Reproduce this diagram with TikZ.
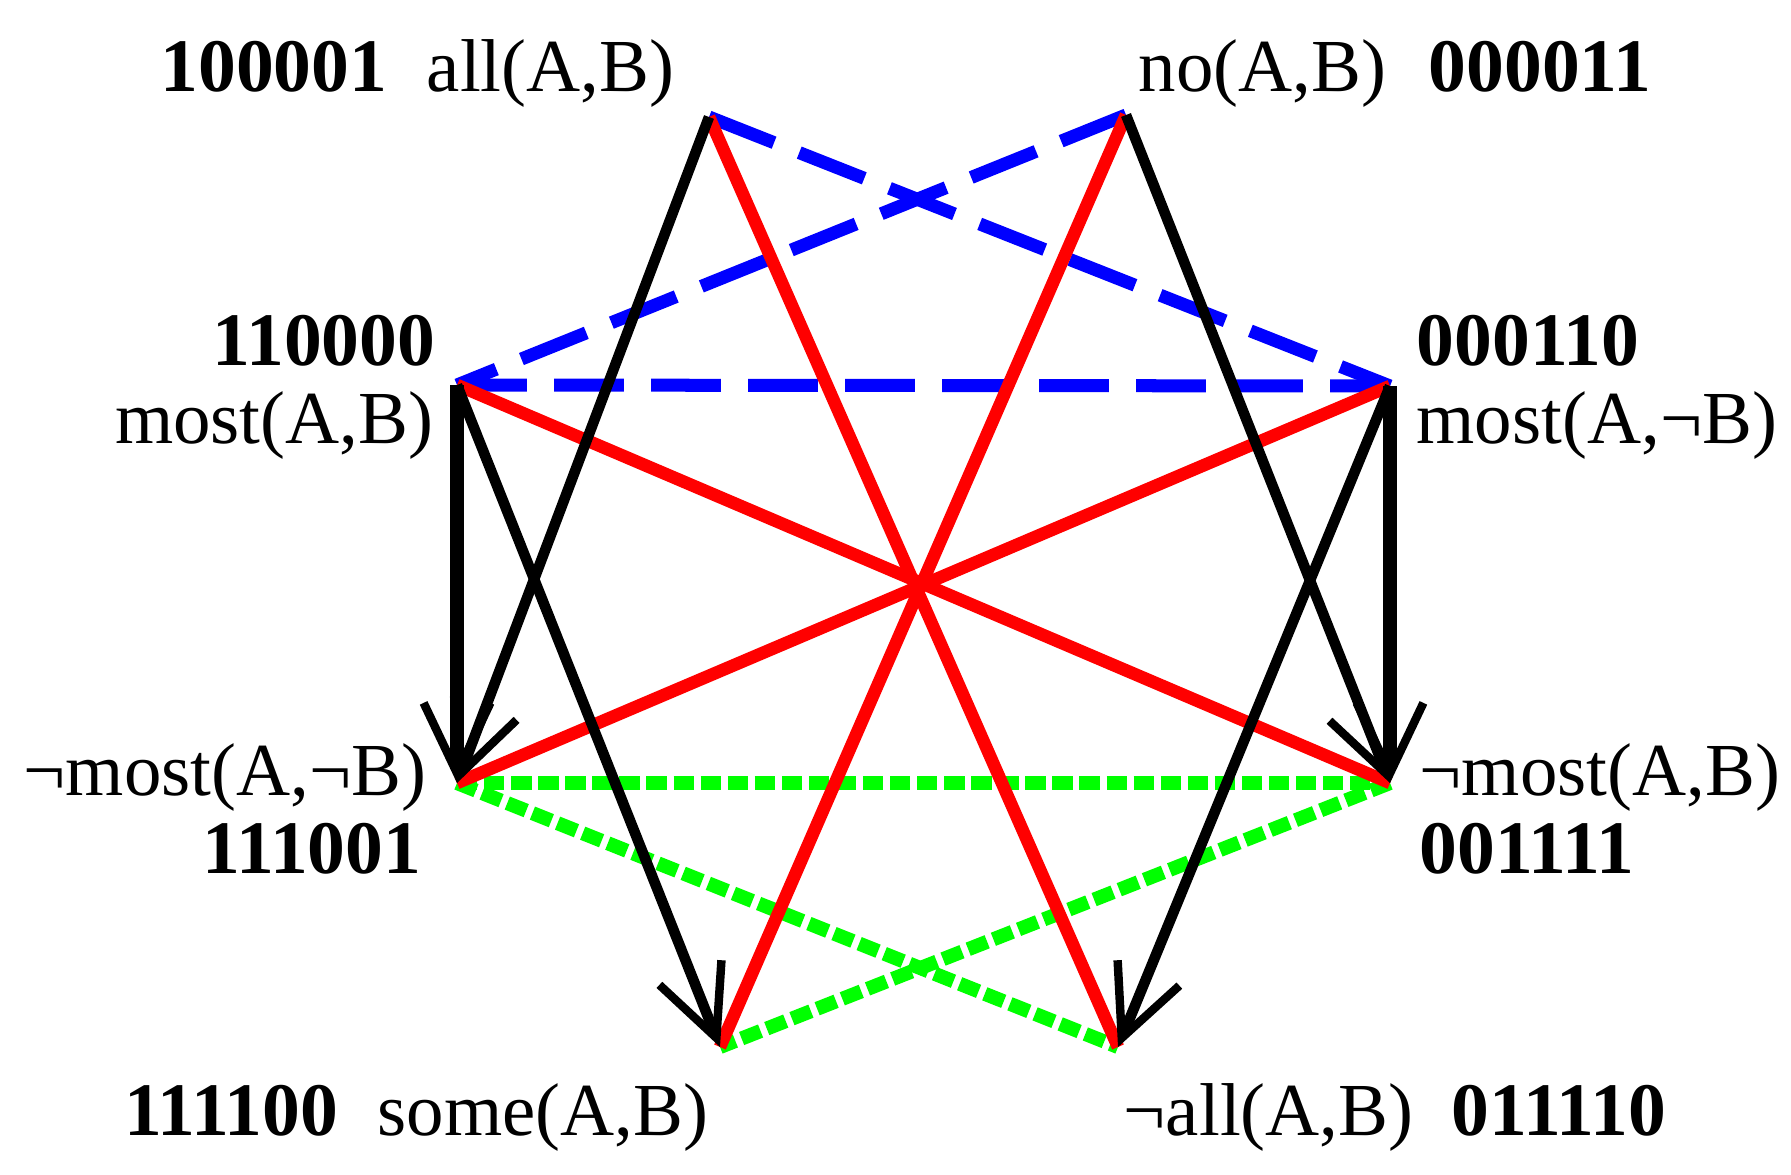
\documentclass[tikz,border=0pt]{standalone}
\usepackage{fontspec}
\setmainfont{Liberation Serif}
\usetikzlibrary{arrows.meta}

\begin{document}
\begin{tikzpicture}[
	contra/.style={red, line width=3.6pt},
	contrary/.style={blue, line width=3.7pt, dash pattern=on 19.9pt off 7.7pt},
	subcontrary/.style={green, line width=4pt, dash pattern=on 5.8pt off 1.9pt},
	implies/.style={line width=3pt, -{Straight Barb[length=20pt, width=19pt, line width=2.4pt]}},
	txt/.style={inner sep=0pt, font=\fontsize{21.3}{25}\selectfont},
	code/.style={txt, font=\fontsize{21.5}{25}\selectfont\bfseries}]
	\useasboundingbox (0,0) rectangle (17.91,11.74);
	\coordinate (all) at (7.09,10.57);
	\coordinate (no) at (11.26,10.59);
	\coordinate (mostAB) at (4.57,7.89);
	\coordinate (mostAnB) at (13.90,7.88);
	\coordinate (nmostAnB) at (4.57,3.91);
	\coordinate (nmostAB) at (13.90,3.91);
	\coordinate (some) at (7.20,1.27);
	\coordinate (nall) at (11.18,1.27);
	\draw[subcontrary] (nmostAnB)--(nmostAB);
	\draw[subcontrary] (nmostAnB)--(nall);
	\draw[subcontrary] (nmostAB)--(some);
	\draw[contrary] (mostAB)--(mostAnB);
	\draw[contrary] (all)--(mostAnB);
	\draw[contrary] (no)--(mostAB);
	\draw[contra] (all)--(nall);
	\draw[contra] (no)--(some);
	\draw[contra] (mostAB)--(nmostAB);
	\draw[contra] (mostAnB)--(nmostAnB);
	\draw[implies] (all)--(nmostAnB);
	\draw[implies] (mostAB)--(some);
	\draw[implies] (no)--(nmostAB);
	\draw[implies] (mostAnB)--(nall);
	\draw[implies, line width=4.2pt] (mostAB)--(nmostAnB);
	\draw[implies, line width=4.2pt] (mostAnB)--(nmostAB);
	\node[code, anchor=base east] (all-c) at (3.88,10.82) {100001};
	\node[txt, anchor=base east] (all-l) at (6.75,10.82) {all(A,B)};
	\node[txt, anchor=base west] (no-l) at (11.38,10.82) {no(A,B)};
	\node[code, anchor=base west] (no-c) at (14.28,10.82) {000011};
	\node[code, anchor=base east] (mostAB-c) at (4.36,8.09) {110000};
	\node[txt, anchor=base east] (mostAB-l) at (4.34,7.31) {most(A,B)};
	\node[code, anchor=base west] (mostAnB-c) at (14.16,8.09) {000110};
	\node[txt, anchor=base west] (mostAnB-l) at (14.16,7.31) {most(A,¬B)};
	\node[txt, anchor=base east] (nmostAnB-l) at (4.27,3.79) {¬most(A,¬B)};
	\node[code, anchor=base east] (nmostAnB-c) at (4.22,3.01) {111001};
	\node[txt, anchor=base west] (nmostAB-l) at (14.19,3.79) {¬most(A,B)};
	\node[code, anchor=base west] (nmostAB-c) at (14.19,3.01) {001111};
	\node[code, anchor=base east] (some-c) at (3.39,0.39) {111100};
	\node[txt, anchor=base east] (some-l) at (7.09,0.39) {some(A,B)};
	\node[txt, anchor=base west] (nall-l) at (11.23,0.39) {¬all(A,B)};
	\node[code, anchor=base west] (nall-c) at (14.51,0.39) {011110};
\end{tikzpicture}
\end{document}
